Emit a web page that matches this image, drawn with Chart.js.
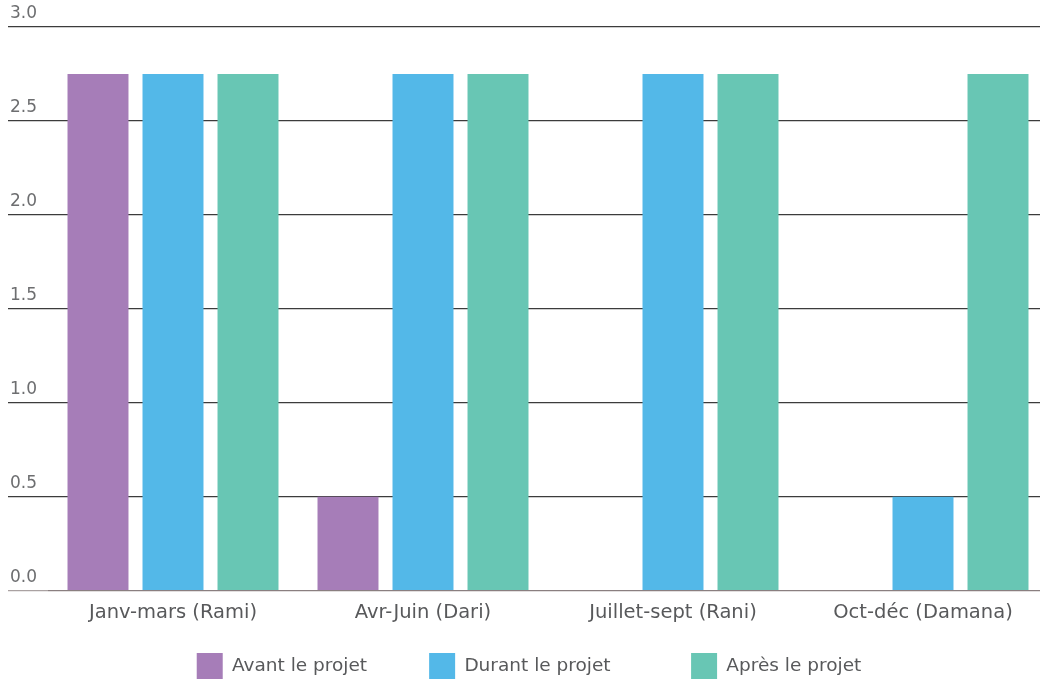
<!DOCTYPE html>
<html>
<head>
  <title>Projet par trimestre</title>
  <script src="https://cdn.jsdelivr.net/npm/chart.js"></script>
  <style>
    html, body {
      margin: 0;
      padding: 0;
      background: #ffffff;
      overflow: hidden;
    }
    .chart-wrap {
      position: relative;
      width: 1048px;
      height: 681px;
    }
  </style>
</head>
<body>
  <div class="chart-wrap">
    <canvas id="projetChart"></canvas>
  </div>

  <script>
    // Valeurs par trimestre
    const trimestres = ['Janv-mars (Rami)', 'Avr-Juin (Dari)', 'Juillet-sept (Rani)', 'Oct-déc (Damana)'];
    const avantProjet = [2.75, 0.5, 0, 0];
    const durantProjet = [2.75, 2.75, 2.75, 0.5];
    const apresProjet = [2.75, 2.75, 2.75, 2.75];
    const graduations = [0, 0.5, 1.0, 1.5, 2.0, 2.5, 3.0];

    const police = 'DejaVu Sans, sans-serif';
    // espaces ajoutées après les libellés de légende (sauf le dernier)
    const espacesLegende = ['\u2003\u2003', '\u2003\u2003\u2003', ''];

    const ctx = document.getElementById('projetChart').getContext('2d');
    const chart = new Chart(ctx, {
      type: 'bar',
      data: {
        labels: trimestres,
        datasets: [
          { label: 'Avant le projet', data: avantProjet, backgroundColor: '#a67db8' },
          { label: 'Durant le projet', data: durantProjet, backgroundColor: '#53b8e8' },
          { label: 'Après le projet', data: apresProjet, backgroundColor: '#68c6b4' }
        ]
      },
      options: {
        responsive: true,
        maintainAspectRatio: false,
        animation: false,
        datasets: {
          bar: {
            categoryPercentage: 0.9,
            barPercentage: 0.813,
            borderWidth: 0
          }
        },
        layout: {
          padding: { left: 10, right: 0, top: 27, bottom: -8 }
        },
        plugins: {
          tooltip: { enabled: false },
          legend: {
            position: 'bottom',
            labels: {
              boxWidth: 26,
              boxHeight: 26,
              padding: 25,
              color: '#58595b',
              font: { family: police, size: 18.5 },
              generateLabels: (c) => {
                const items = Chart.defaults.plugins.legend.labels.generateLabels(c);
                items.forEach((it, i) => { it.text += espacesLegende[i] || ''; });
                return items;
              }
            }
          }
        },
        scales: {
          x: {
            grid: { display: false },
            border: { display: false },
            ticks: {
              padding: 3,
              color: '#58595b',
              font: { family: police, size: 19.5 }
            }
          },
          y: {
            min: 0,
            max: 3,
            afterBuildTicks: (axis) => {
              axis.ticks = graduations.map(v => ({ value: v }));
            },
            afterFit: (axis) => {
              axis.width = 38;
            },
            border: { display: false },
            grid: {
              drawTicks: true,
              tickLength: 40,
              lineWidth: 1.3,
              color: (c) => c.tick && c.tick.value === 0 ? '#8a7f80' : '#3c3c3c',
              tickColor: (c) => c.tick && c.tick.value === 0 ? '#aaa2a2' : '#3c3c3c'
            },
            ticks: {
              crossAlign: 'far',
              labelOffset: -13,
              padding: 0,
              color: '#6d6e70',
              font: { family: police, size: 17 },
              callback: (v) => Number(v).toFixed(1)
            }
          }
        }
      }
    });
  </script>
</body>
</html>
